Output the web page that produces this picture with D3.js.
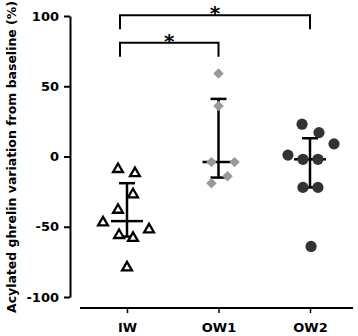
<!DOCTYPE html>
<html>
<head>
<meta charset="utf-8">
<script src="https://cdn.jsdelivr.net/npm/d3@7"></script>
<style>
  body { margin: 0; background: #fff; }
  svg text { font-family: "DejaVu Sans", Verdana, sans-serif; font-weight: bold; }
</style>
</head>
<body>
<svg id="chart" width="358" height="336"></svg>
<script>
// groups on the x axis
const groups = ["IW", "OW1", "OW2"];
const yTicks = [-100, -50, 0, 50, 100];

// individual values (% variation) and their column slot in the scatter
const iwValues = [-9, -12, -27, -38, -47, -52, -56, -58, -79];
const iwSlots = [-0.6, 0.53, 0.4, -0.6, -1.6, 1.47, -0.53, 0.4, 0];
const ow1Values = [59, 36, -4, -4, -14, -19];
const ow1Slots = [0, 0, -0.47, 1.07, 0.6, -0.47];
const ow2Values = [23, 17, 9, 1, -2, -2, -22, -22, -64];
const ow2Slots = [-0.53, 0.6, 1.6, -1.47, -0.47, 0.53, -0.47, 0.53, 0.07];

// median and interval per group
const medians = [-46, -4, -2];
const lowers = [-57, -15, -22];
const uppers = [-19, 41, 13];

// significance brackets
const pairs = [["IW", "OW2"], ["IW", "OW1"]];
const pairLevels = [100.5, 81];
const pairLabels = ["*", "*"];

const svg = d3.select("#chart");

const y = d3.scaleLinear().domain([-100, 100]).range([297, 16]);
const x = d3.scalePoint().domain(groups).range([127, 310]);
const slot = d3.scaleLinear().domain([0, 1]).range([0, 15]);

// y axis
const yAxis = svg.append("g")
    .attr("transform", "translate(70,0)")
    .call(d3.axisLeft(y).tickValues(yTicks).tickFormat(d => String(d))
        .tickSize(6).tickSizeOuter(0).tickPadding(5));
yAxis.select(".domain").attr("stroke", "#000").attr("stroke-width", 2);
yAxis.selectAll(".tick line").attr("stroke-width", 2);
yAxis.selectAll(".tick text").style("font-size", "13px").attr("fill", "#000");

svg.append("text")
    .attr("transform", "translate(16,157) rotate(-90)")
    .attr("text-anchor", "middle")
    .attr("textLength", 312)
    .attr("lengthAdjust", "spacingAndGlyphs")
    .style("font-size", "12px")
    .text("Acylated ghrelin variation from baseline (%)");

// x axis
svg.append("line")
    .attr("x1", 80).attr("x2", 353)
    .attr("y1", 308).attr("y2", 308)
    .attr("stroke", "#000").attr("stroke-width", 2);
const xAxis = svg.append("g")
    .attr("transform", "translate(0,308)")
    .call(d3.axisBottom(x).tickSize(5).tickSizeOuter(0).tickPadding(10));
xAxis.select(".domain").remove();
xAxis.selectAll(".tick line").attr("stroke-width", 1.5);
xAxis.selectAll(".tick text").style("font-size", "13px").attr("fill", "#000");

// error bars (drawn below points)
const bars = svg.append("g");
groups.forEach((g, i) => {
    const cx = x(g);
    bars.append("line").attr("x1", cx).attr("x2", cx)
        .attr("y1", y(uppers[i])).attr("y2", y(lowers[i]));
    bars.append("line").attr("x1", cx - 8).attr("x2", cx + 8)
        .attr("y1", y(uppers[i])).attr("y2", y(uppers[i]));
    bars.append("line").attr("x1", cx - 8).attr("x2", cx + 8)
        .attr("y1", y(lowers[i])).attr("y2", y(lowers[i]));
    bars.append("line").attr("x1", cx - 16).attr("x2", cx + 16)
        .attr("y1", y(medians[i])).attr("y2", y(medians[i]));
});
bars.selectAll("line").attr("stroke", "#000").attr("stroke-width", 2.5);

// IW: open triangles
svg.append("g").selectAll("path")
    .data(iwValues)
    .join("path")
    .attr("d", d3.symbol().type(d3.symbolTriangle).size(42))
    .attr("transform", (d, i) => `translate(${x("IW") + slot(iwSlots[i])},${y(d)})`)
    .attr("fill", "#fff")
    .attr("stroke", "#000")
    .attr("stroke-width", 2.3);

// OW1: grey diamonds
svg.append("g").selectAll("path")
    .data(ow1Values)
    .join("path")
    .attr("d", d3.symbol().type(d3.symbolSquare).size(55))
    .attr("transform", (d, i) => `translate(${x("OW1") + slot(ow1Slots[i])},${y(d)}) rotate(45)`)
    .attr("fill", "#999");

// OW2: dark circles
svg.append("g").selectAll("circle")
    .data(ow2Values)
    .join("circle")
    .attr("cx", (d, i) => x("OW2") + slot(ow2Slots[i]))
    .attr("cy", d => y(d))
    .attr("r", 5.6)
    .attr("fill", "#333");

// brackets
const br = svg.append("g");
pairs.forEach((p, i) => {
    const x1 = x(p[0]) - 7, x2 = x(p[1]);
    const yy = y(pairLevels[i]);
    br.append("path")
        .attr("d", `M${x1},${yy + 14}V${yy}H${x2}V${yy + 14}`)
        .attr("fill", "none").attr("stroke", "#000").attr("stroke-width", 2);
    br.append("text")
        .attr("x", (x1 + x2) / 2)
        .attr("y", yy + 5)
        .attr("text-anchor", "middle")
        .style("font-size", "20px")
        .text(pairLabels[i]);
});
</script>
</body>
</html>
